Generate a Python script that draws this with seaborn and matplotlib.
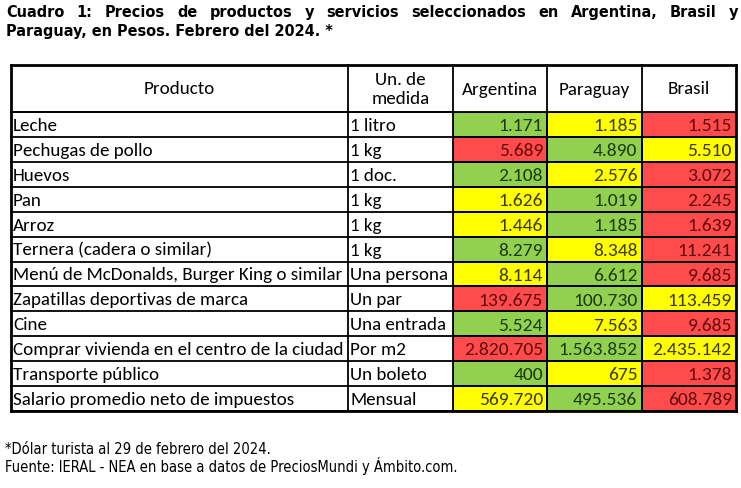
"""
Cuadro 1: precios de productos y servicios seleccionados en Argentina,
Paraguay y Brasil, rendered as a colour-ranked table with seaborn.
"""
import matplotlib

matplotlib.use("Agg")
import matplotlib.pyplot as plt
import pandas as pd
import seaborn as sns
from matplotlib.colors import ListedColormap

productos = [
    "Leche",
    "Pechugas de pollo",
    "Huevos",
    "Pan",
    "Arroz",
    "Ternera (cadera o similar)",
    "Menú de McDonalds, Burger King o similar",
    "Zapatillas deportivas de marca",
    "Cine",
    "Comprar vivienda en el centro de la ciudad",
    "Transporte público",
    "Salario promedio neto de impuestos",
]
unidades = [
    "1 litro", "1 kg", "1 doc.", "1 kg", "1 kg", "1 kg",
    "Una persona", "Un par", "Una entrada", "Por m2", "Un boleto", "Mensual",
]
paises = ["Argentina", "Paraguay", "Brasil"]
argentina = [1171, 5689, 2108, 1626, 1446, 8279, 8114, 139675, 5524, 2820705, 400, 569720]
paraguay = [1185, 4890, 2576, 1019, 1185, 8348, 6612, 100730, 7563, 1563852, 675, 495536]
brasil = [1515, 5510, 3072, 2245, 1639, 11241, 9685, 113459, 9685, 2435142, 1378, 608789]

titulo_1 = "Cuadro 1: Precios de productos y servicios seleccionados en Argentina, Brasil y"
titulo_2 = "Paraguay, en Pesos. Febrero del 2024. *"
nota_1 = "*Dólar turista al 29 de febrero del 2024."
nota_2 = "Fuente: IERAL - NEA en base a datos de PreciosMundi y Ámbito.com."

# colours: cheapest green, middle yellow, most expensive red
cell_colors = ["#92D050", "#FFFF00", "#FF4B4B"]
text_colors = ["#1C3A0E", "#3A3A00", "#5E0A0A"]

df = pd.DataFrame({"Argentina": argentina, "Paraguay": paraguay, "Brasil": brasil})
ranks = df.rank(axis=1, method="first")
labels = df.map(lambda v: f"{v:,}".replace(",", "."))

W, H = 741, 489
fig = plt.figure(figsize=(W / 100, H / 100), dpi=100)
fig.patch.set_facecolor("white")

# overlay in pixel coordinates
ax = fig.add_axes([0, 0, 1, 1])
ax.set_xlim(0, W)
ax.set_ylim(H, 0)
ax.axis("off")
ax.set_zorder(5)
renderer = fig.canvas.get_renderer()

body_font = ["Carlito", "DejaVu Sans"]
head_font = dict(family="DejaVu Sans", fontstretch="condensed")


def fit_size(text, target, **kw):
    t = ax.text(0, 0, text, fontsize=10, **kw)
    w = t.get_window_extent(renderer).width
    t.remove()
    return 10 * target / w


body_size = fit_size(productos[6], 331, family=body_font)
num_size = fit_size("2.820.705", 79, family=body_font)
title_size = fit_size(titulo_2, 327, fontweight="bold", **head_font)
note_size = fit_size(nota_2, 450, **head_font)

# table geometry in pixels
x_cols = [11, 348, 453, 547, 642, 736]
y_top, y_head = 66, 113
y_bot = 412
n = len(productos)
row_h = (y_bot - y_head) / n

hax = fig.add_axes([x_cols[2] / W, 1 - y_bot / H,
                    (x_cols[5] - x_cols[2]) / W, (y_bot - y_head) / H])
sns.heatmap(
    ranks,
    cmap=ListedColormap(cell_colors),
    vmin=0.5,
    vmax=3.5,
    cbar=False,
    annot=labels.values,
    fmt="",
    annot_kws={"fontsize": num_size, "family": body_font},
    linewidths=1.3,
    linecolor="black",
    xticklabels=False,
    yticklabels=False,
    ax=hax,
)
rank_flat = ranks.values.astype(int).ravel()
for t, r in zip(hax.texts, rank_flat):
    x, y = t.get_position()
    t.set_position((x + 0.5 - 0.045, y + 0.03))
    t.set_ha("right")
    t.set_color(text_colors[r - 1])

lw = 1.3
for i in range(n + 1):
    y = y_head + i * row_h
    ax.plot([x_cols[0], x_cols[2]], [y, y], color="black", lw=lw)
ax.plot([x_cols[0], x_cols[5]], [y_top, y_top], color="black", lw=2)
ax.plot([x_cols[0], x_cols[5]], [y_head, y_head], color="black", lw=lw)
ax.plot([x_cols[0], x_cols[5]], [y_bot, y_bot], color="black", lw=2)
for j, x in enumerate(x_cols):
    y_end = y_bot if j <= 2 or j == 5 else y_head
    ax.plot([x, x], [y_top, y_end], color="black", lw=2 if j in (0, 5) else lw)

body = dict(fontsize=body_size, family=body_font, color="black", va="center")
yh = (y_top + y_head) / 2
ax.text((x_cols[0] + x_cols[1]) / 2, yh, "Producto", ha="center", **body)
ax.text((x_cols[1] + x_cols[2]) / 2, yh, "Un. de\nmedida",
        ha="center", linespacing=1.3, **body)
for k, p in enumerate(paises):
    ax.text((x_cols[2 + k] + x_cols[3 + k]) / 2, yh, p, ha="center", **body)
for i, (p, u) in enumerate(zip(productos, unidades)):
    yc = y_head + (i + 0.5) * row_h + 0.5
    ax.text(x_cols[0] + 2, yc, p, ha="left", **body)
    ax.text(x_cols[1] + 2, yc, u, ha="left", **body)

# justified first title line
title_kw = dict(fontsize=title_size, fontweight="bold", va="baseline", **head_font)
words = titulo_1.split()
tw = [ax.text(0, 17, w, **title_kw) for w in words]
widths = [t.get_window_extent(renderer).width for t in tw]
gap = (738 - 6 - sum(widths)) / (len(words) - 1)
x = 6
for t, w in zip(tw, widths):
    t.set_x(x)
    x += w + gap
ax.text(6, 36, titulo_2, **title_kw)

note_kw = dict(fontsize=note_size, va="baseline", **head_font)
ax.text(5, 454, nota_1, **note_kw)
ax.text(5, 472, nota_2, **note_kw)

fig.savefig("out.png", dpi=100)
plt.close(fig)
